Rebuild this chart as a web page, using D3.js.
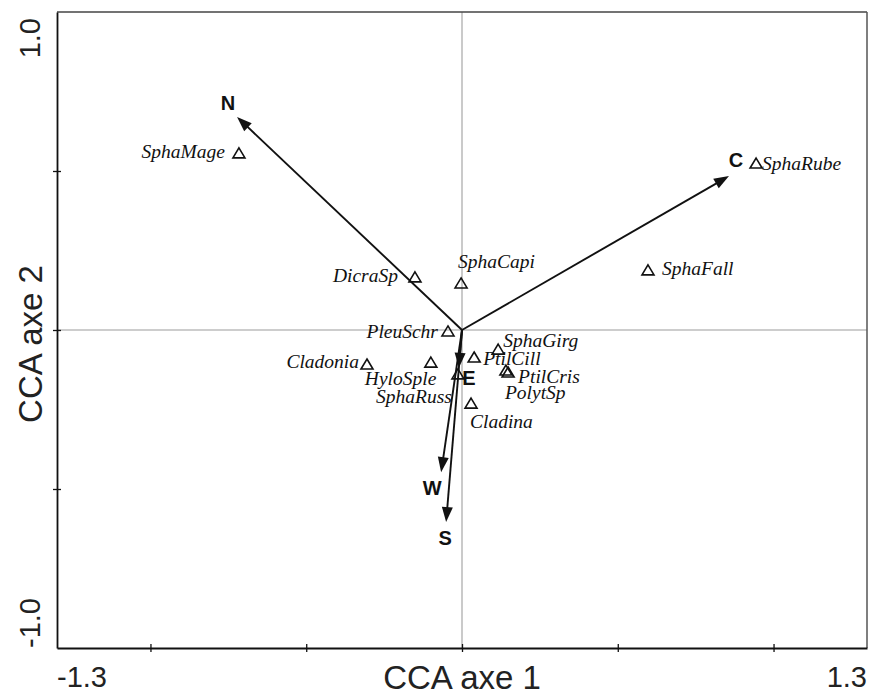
<!DOCTYPE html>
<html><head><meta charset="utf-8">
<script src="https://cdn.jsdelivr.net/npm/d3@7"></script>
<style>
html,body{margin:0;padding:0;background:#fff;}
svg{display:block;}
</style></head>
<body>
<svg id="chart" width="870" height="696"></svg>
<script>
// ---- data ----
const species = ["SphaMage","SphaRube","SphaFall","DicraSp","SphaCapi","PleuSchr","Cladonia","HyloSple","SphaRuss","PtilCill","SphaGirg","PtilCris","PolytSp","Cladina"];
const speciesAxis1 = [-0.716, 0.944, 0.597, -0.151, -0.003, -0.045, -0.305, -0.100, -0.013, 0.039, 0.116, 0.148, 0.141, 0.029];
const speciesAxis2 = [0.557, 0.525, 0.189, 0.167, 0.148, -0.003, -0.107, -0.101, -0.138, -0.085, -0.060, -0.132, -0.126, -0.230];

const envVars = ["N","C","W","S","E"];
const envAxis1 = [-0.722, 0.857, -0.067, -0.051, -0.010];
const envAxis2 = [0.670, 0.484, -0.447, -0.604, -0.119];

const xTickValues = [-1.0, -0.5, 0, 0.5, 1.0];
const yTickValues = [-0.5, 0, 0.5];
const xTickLabels = ["-1.3", "1.3"];
const yTickLabels = ["-1.0", "1.0"];
const xTitle = "CCA axe 1";
const yTitle = "CCA axe 2";

// ---- layout (positions / styles) ----
const L = 57, R = 867, T = 12, B = 648;
const svg = d3.select("#chart");
const x = d3.scaleLinear().domain([-1.3, 1.3]).range([L, R]);
const y = d3.scaleLinear().domain([-1.0, 1.0]).range([B, T]);

// label placement for species: [anchor, dx, dy]
const labelPlace = {
  SphaMage: ["end", -14, 5],
  SphaRube: ["start", 6, 7],
  SphaFall: ["start", 14, 5],
  DicraSp:  ["end", -17, 5],
  SphaCapi: ["start", -3, -15],
  PleuSchr: ["end", -10, 7],
  Cladonia: ["end", -8, 4],
  HyloSple: ["start", -66, 23],
  SphaRuss: ["end", -6, 29],
  PtilCill: ["start", 9, 8],
  SphaGirg: ["start", 5, -2],
  PtilCris: ["start", 10, 11],
  PolytSp:  ["start", -1, 29],
  Cladina:  ["start", -1, 25]
};
const envLabelPlace = {
  N: [-9, -7],
  C: [7, -9],
  W: [-9, 23],
  S: [-1, 23],
  E: [10, 17]
};

// crosshair
svg.append("line").attr("x1", x(0)).attr("x2", x(0)).attr("y1", T).attr("y2", B)
  .attr("stroke", "#bdbdbd").attr("stroke-width", 1.6);
svg.append("line").attr("x1", L).attr("x2", R).attr("y1", y(0)).attr("y2", y(0))
  .attr("stroke", "#bdbdbd").attr("stroke-width", 1.6);

// frame top/right
svg.append("line").attr("x1", L).attr("x2", R).attr("y1", T).attr("y2", T)
  .attr("stroke", "#444").attr("stroke-width", 1.5);
svg.append("line").attr("x1", R).attr("x2", R).attr("y1", T).attr("y2", B)
  .attr("stroke", "#555").attr("stroke-width", 1.5);

// axes
const gx = svg.append("g").attr("transform", `translate(0,${B})`)
  .call(d3.axisBottom(x).tickValues(xTickValues).tickSize(4).tickSizeOuter(0).tickFormat(""));
gx.select(".domain").attr("stroke", "#111").attr("stroke-width", 1.8);
gx.selectAll(".tick line").attr("y1", -4).attr("y2", 4).attr("stroke", "#111").attr("stroke-width", 1.3);

const gy = svg.append("g").attr("transform", `translate(${L},0)`)
  .call(d3.axisLeft(y).tickValues(yTickValues).tickSize(4).tickSizeOuter(0).tickFormat(""));
gy.select(".domain").attr("stroke", "#111").attr("stroke-width", 1.8);
gy.selectAll(".tick line").attr("x1", -4).attr("x2", 4).attr("stroke", "#111").attr("stroke-width", 1.3);

// end labels
const tickFont = "'Liberation Sans', Arial, sans-serif";
svg.append("text").attr("x", x(-1.3)).attr("y", 687).attr("text-anchor", "start")
  .attr("font-family", tickFont).attr("font-size", 29).attr("fill", "#222").text(xTickLabels[0]);
svg.append("text").attr("x", x(1.3)).attr("y", 687).attr("text-anchor", "end")
  .attr("font-family", tickFont).attr("font-size", 29).attr("fill", "#222").text(xTickLabels[1]);
svg.append("text").attr("transform", `translate(40,${y(-1.0)}) rotate(-90)`).attr("text-anchor", "start")
  .attr("font-family", tickFont).attr("font-size", 29).attr("fill", "#222").text(yTickLabels[0]);
svg.append("text").attr("transform", `translate(40,${y(1.0)+6}) rotate(-90)`).attr("text-anchor", "end")
  .attr("font-family", tickFont).attr("font-size", 29).attr("fill", "#222").text(yTickLabels[1]);

// titles
svg.append("text").attr("x", x(0)).attr("y", 689).attr("text-anchor", "middle")
  .attr("font-family", tickFont).attr("font-size", 33).attr("fill", "#222").text(xTitle);
svg.append("text").attr("transform", `translate(42,344) rotate(-90)`).attr("text-anchor", "middle")
  .attr("font-family", tickFont).attr("font-size", 33).attr("fill", "#222").text(yTitle);

// arrows
const envData = envVars.map((n, i) => ({name: n, a1: envAxis1[i], a2: envAxis2[i]}));
const ag = svg.append("g");
envData.forEach(d => {
  const x0 = x(0), y0 = y(0), x1 = x(d.a1), y1 = y(d.a2);
  const dx = x1 - x0, dy = y1 - y0, len = Math.hypot(dx, dy);
  const ux = dx / len, uy = dy / len, px = -uy, py = ux;
  const hl = 15, hw = 5.5;
  const bx = x1 - ux * hl, by = y1 - uy * hl;
  ag.append("line").attr("x1", x0).attr("y1", y0).attr("x2", bx + ux * 2).attr("y2", by + uy * 2)
    .attr("stroke", "#111").attr("stroke-width", 1.9);
  ag.append("path").attr("d", `M${x1},${y1}L${bx + px * hw},${by + py * hw}L${bx - px * hw},${by - py * hw}Z`)
    .attr("fill", "#111");
  const lp = envLabelPlace[d.name];
  ag.append("text").attr("x", x1 + lp[0]).attr("y", y1 + lp[1]).attr("text-anchor", "middle")
    .attr("font-family", tickFont).attr("font-weight", "bold").attr("font-size", 20).attr("fill", "#111")
    .text(d.name);
});

// species
const spData = species.map((n, i) => ({name: n, a1: speciesAxis1[i], a2: speciesAxis2[i]}));
const sg = svg.append("g");
spData.forEach(d => {
  const cx = x(d.a1), cy = y(d.a2);
  sg.append("path").attr("d", `M${cx},${cy - 5}L${cx + 6},${cy + 5}L${cx - 6},${cy + 5}Z`)
    .attr("fill", "none").attr("stroke", "#111").attr("stroke-width", 1.6).attr("stroke-linejoin", "miter");
  const lp = labelPlace[d.name];
  sg.append("text").attr("x", cx + lp[1]).attr("y", cy + lp[2]).attr("text-anchor", lp[0])
    .attr("font-family", "'Liberation Serif', 'Times New Roman', serif").attr("font-style", "italic")
    .attr("font-size", 19.5).attr("fill", "#111").text(d.name);
});
</script>
</body></html>
